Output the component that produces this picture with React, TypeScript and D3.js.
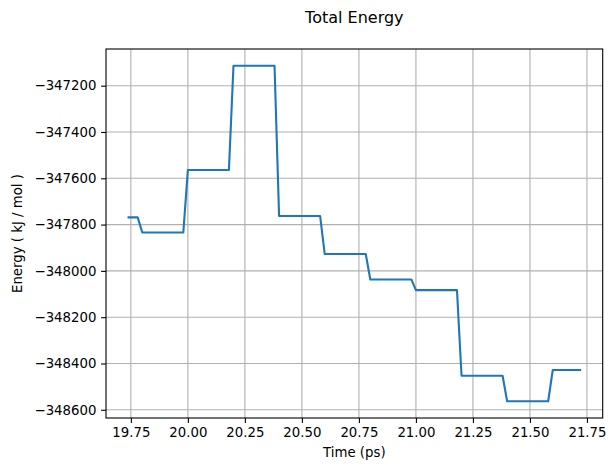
import React, { useRef, useEffect } from "react";
import * as d3 from "d3";

// Data (vertices of the trace)
const times = [
    19.74, 19.78, 19.80, 19.98, 20.00, 20.18, 20.20, 20.38, 20.40, 20.58, 20.60,
    20.78, 20.80, 20.98, 21.00, 21.18, 21.20, 21.38, 21.40, 21.58, 21.60, 21.72,
];
const energies = [
    -347769, -347769, -347834, -347834, -347564, -347564, -347114, -347114, -347763, -347763, -347927,
    -347927, -348037, -348037, -348083, -348083, -348453, -348453, -348563, -348563, -348428, -348428,
];
const xTicks = [19.75, 20.0, 20.25, 20.5, 20.75, 21.0, 21.25, 21.5, 21.75];
const yTicks = [-347200, -347400, -347600, -347800, -348000, -348200, -348400, -348600];

const W = 615;
const H = 472;
const FONT = "DejaVu Sans, sans-serif";

export default function App() {
    const svgRef = useRef<SVGSVGElement>(null);

    useEffect(() => {
        if (!svgRef.current) return;
        const svg = d3.select(svgRef.current);
        svg.selectAll("*").remove();

        const margin = { top: 49, right: W - 602.7, bottom: H - 418, left: 106 };
        const innerWidth = W - margin.left - margin.right;
        const innerHeight = H - margin.top - margin.bottom;

        // matplotlib style 5% padding
        const [x0, x1] = d3.extent(times) as [number, number];
        const [y0, y1] = d3.extent(energies) as [number, number];
        const xPad = (x1 - x0) * 0.05;
        const yPad = (y1 - y0) * 0.05;

        const xScale = d3.scaleLinear().domain([x0 - xPad, x1 + xPad]).range([0, innerWidth]);
        const yScale = d3.scaleLinear().domain([y0 - yPad, y1 + yPad]).range([innerHeight, 0]);

        const g = svg.append("g").attr("transform", `translate(${margin.left},${margin.top})`);

        // grid
        g.append("g")
            .selectAll("line")
            .data(xTicks)
            .join("line")
            .attr("x1", d => xScale(d)).attr("x2", d => xScale(d))
            .attr("y1", 0).attr("y2", innerHeight)
            .attr("stroke", "#b0b0b0").attr("stroke-width", 1.1);
        g.append("g")
            .selectAll("line")
            .data(yTicks)
            .join("line")
            .attr("x1", 0).attr("x2", innerWidth)
            .attr("y1", d => yScale(d)).attr("y2", d => yScale(d))
            .attr("stroke", "#b0b0b0").attr("stroke-width", 1.1);

        // line
        const pts = times.map((t, i) => [t, energies[i]] as [number, number]);
        const lineGen = d3.line<[number, number]>()
            .x(d => xScale(d[0]))
            .y(d => yScale(d[1]));
        g.append("path")
            .attr("d", lineGen(pts))
            .attr("fill", "none")
            .attr("stroke", "#1f77b4")
            .attr("stroke-width", 2.1)
            .attr("stroke-linejoin", "round")
            .attr("stroke-linecap", "square");

        // frame
        g.append("rect")
            .attr("width", innerWidth).attr("height", innerHeight)
            .attr("fill", "none").attr("stroke", "black").attr("stroke-width", 1.1);

        // axes
        const fmtX = d3.format(".2f");
        const fmtY = (v: number) => (v < 0 ? "\u2212" + Math.abs(v) : String(v));

        const xAxis = g.append("g")
            .attr("transform", `translate(0,${innerHeight})`)
            .call(d3.axisBottom(xScale).tickValues(xTicks).tickFormat(d => fmtX(d as number)).tickSize(4.9).tickPadding(4.7));
        const yAxis = g.append("g")
            .call(d3.axisLeft(yScale).tickValues(yTicks).tickFormat(d => fmtY(d as number)).tickSize(4.9).tickPadding(4.7));

        [xAxis, yAxis].forEach(a => {
            a.select(".domain").remove();
            a.selectAll(".tick line").attr("stroke", "black").attr("stroke-width", 1.1);
            a.selectAll(".tick text")
                .attr("font-family", FONT)
                .attr("font-size", 13.3)
                .attr("fill", "black");
        });

        // labels
        svg.append("text")
            .attr("x", margin.left + innerWidth / 2)
            .attr("y", 23)
            .attr("text-anchor", "middle")
            .attr("font-family", FONT)
            .attr("font-size", 16)
            .text("Total Energy");

        svg.append("text")
            .attr("x", margin.left + innerWidth / 2)
            .attr("y", 457)
            .attr("text-anchor", "middle")
            .attr("font-family", FONT)
            .attr("font-size", 13.3)
            .text("Time (ps)");

        svg.append("text")
            .attr("transform", `translate(21.5,${margin.top + innerHeight / 2}) rotate(-90)`)
            .attr("text-anchor", "middle")
            .attr("font-family", FONT)
            .attr("font-size", 13.3)
            .text("Energy ( kJ / mol )");
    }, []);

    return (
        <svg
            ref={svgRef}
            width={W}
            height={H}
            style={{ position: "absolute", left: 0, top: 0, background: "white" }}
        />
    );
}
